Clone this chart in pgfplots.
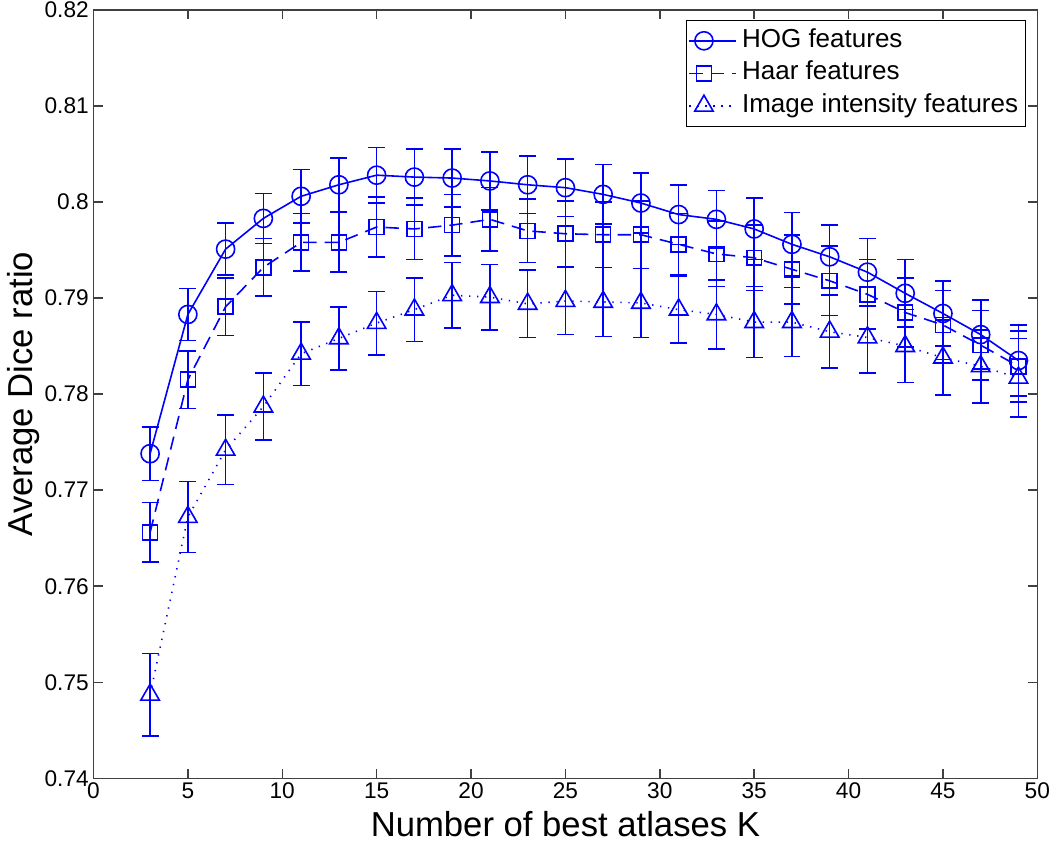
\documentclass[border=0pt]{standalone}
\usepackage{fontspec}
\setmainfont{Liberation Sans}
\usepackage{pgfplots}
\usepackage{pgfplotstable}
\pgfplotsset{compat=1.18}

\pgfplotstableread{
K v e
3 0.7738 0.0028
5 0.7883 0.0027
7 0.7951 0.0027
9 0.7983 0.0026
11 0.8006 0.0028
13 0.8018 0.0028
15 0.8028 0.0029
17 0.8026 0.0029
19 0.8025 0.0030
21 0.8022 0.0030
23 0.8018 0.0030
25 0.8015 0.0030
27 0.8008 0.0031
29 0.7999 0.0031
31 0.7987 0.0031
33 0.7982 0.0030
35 0.7972 0.0032
37 0.7956 0.0033
39 0.7943 0.0033
41 0.7927 0.0035
43 0.7905 0.0035
45 0.7884 0.0034
47 0.7862 0.0036
49 0.7835 0.0037
}\hog

\pgfplotstableread{
K v e
3 0.7656 0.0031
5 0.7815 0.0030
7 0.7891 0.0030
9 0.7932 0.0030
11 0.7958 0.0030
13 0.7958 0.0031
15 0.7974 0.0031
17 0.7972 0.0032
19 0.7976 0.0032
21 0.7982 0.0033
23 0.7970 0.0033
25 0.7967 0.0034
27 0.7966 0.0034
29 0.7966 0.0035
31 0.7956 0.0032
33 0.7946 0.0034
35 0.7942 0.0034
37 0.7930 0.0036
39 0.7918 0.0036
41 0.7904 0.0036
43 0.7885 0.0036
45 0.7872 0.0036
47 0.7851 0.0036
49 0.7829 0.0037
}\haar

\pgfplotstableread{
K v e
3 0.7487 0.0043
5 0.7672 0.0037
7 0.7742 0.0036
9 0.7787 0.0035
11 0.7842 0.0033
13 0.7858 0.0033
15 0.7874 0.0033
17 0.7888 0.0033
19 0.7903 0.0034
21 0.7901 0.0034
23 0.7894 0.0035
25 0.7897 0.0035
27 0.7896 0.0036
29 0.7895 0.0036
31 0.7888 0.0035
33 0.7883 0.0036
35 0.7875 0.0037
37 0.7875 0.0036
39 0.7865 0.0038
41 0.7859 0.0037
43 0.7850 0.0038
45 0.7838 0.0039
47 0.7829 0.0038
49 0.7817 0.0041
}\intensity

\definecolor{axgray}{gray}{0.25}

\begin{document}
\begin{tikzpicture}
\begin{axis}[
  scale only axis,
  width=707.85pt, height=576.2pt,
  xmin=0, xmax=50, ymin=0.74, ymax=0.82,
  xtick={0,5,...,50},
  ytick={0.74,0.75,...,0.82},
  scaled y ticks=false,
  yticklabel style={/pgf/number format/fixed, /pgf/number format/precision=2},
  /pgf/number format/assume math mode=true,
  tick label style={font=\fontsize{17}{20}\selectfont},
  tick align=inside,
  major tick length=7pt,
  axis line style={axgray, line width=1.1pt},
  tick style={axgray, line width=1.1pt},
  xlabel={Number of best atlases K},
  ylabel={Average Dice ratio},
  label style={font=\fontsize{26}{30}\selectfont, inner sep=0pt},
  xlabel style={at={([yshift=-43.5pt]axis description cs:0.5,0)}, anchor=base},
  ylabel style={at={([xshift=-46pt]axis description cs:0,0.5)}, anchor=base},
  legend style={at={(1,1)}, anchor=north east, xshift=-8.5pt, yshift=-7.5pt,
    draw=black, line width=0.8pt,
    font=\fontsize{19.5}{23}\selectfont, row sep=0pt, inner xsep=1.5pt, inner ysep=3pt,
    nodes={text height=14.5pt, text depth=4.5pt, inner ysep=2.7pt, inner xsep=4pt},
    cells={anchor=west}},
  legend image code/.code={%
    \draw[mark repeat=2, mark phase=2, #1] plot coordinates {(0pt,0pt) (11pt,0pt) (35pt,0pt)};},
  error bars/error bar style={solid, blue, line width=1.2pt},
  error bars/error mark options={rotate=90, mark size=6.3pt, line width=1.2pt, solid, blue},
]
\addplot[blue, line width=1.2pt, solid, mark=o, mark size=6.8pt, mark options={solid, blue},
  error bars/.cd, y dir=both, y explicit]
  table[x=K, y=v, y error=e] {\hog};
\addlegendentry{HOG features}
\addplot[blue, line width=1.2pt, dash pattern=on 10pt off 6pt, mark=square, mark size=5.6pt, mark options={solid, blue},
  error bars/.cd, y dir=both, y explicit]
  table[x=K, y=v, y error=e] {\haar};
\addlegendentry{Haar features}
\addplot[blue, line width=1.2pt, dash pattern=on 1pt off 5pt, mark=triangle, mark size=8pt, mark options={solid, blue},
  error bars/.cd, y dir=both, y explicit]
  table[x=K, y=v, y error=e] {\intensity};
\addlegendentry{Image intensity features}
\end{axis}
\pgfresetboundingbox
\path ([shift={(-70.1pt,-49.3pt)}]current axis.south west) rectangle ([shift={(9.5pt,7.5pt)}]current axis.north east);
\end{tikzpicture}
\end{document}
